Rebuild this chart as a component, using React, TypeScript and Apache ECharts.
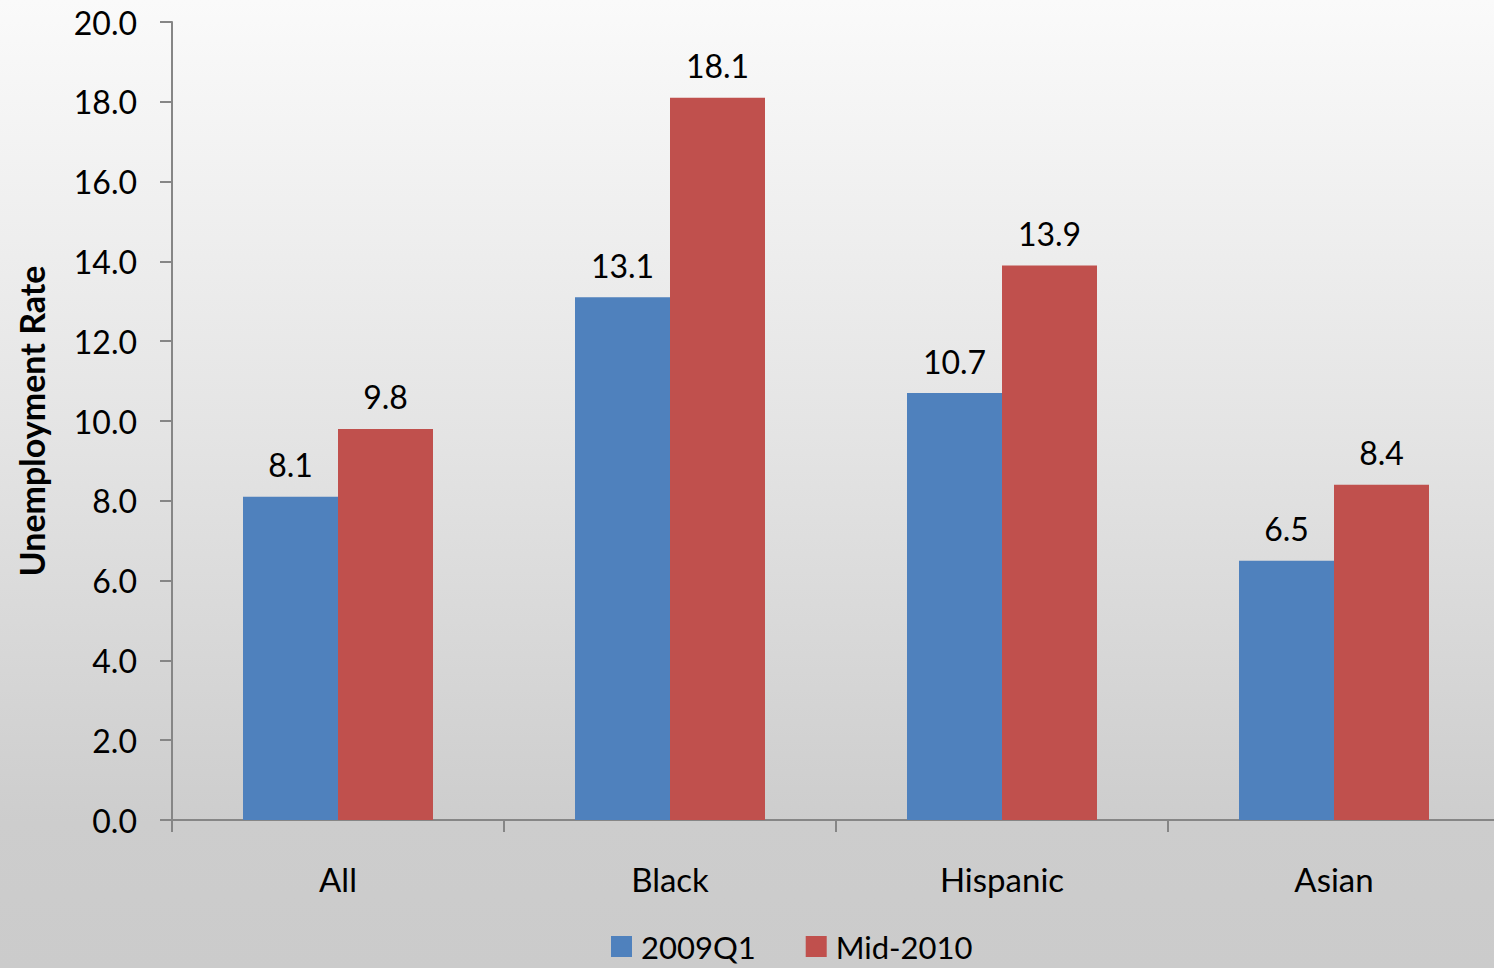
import React, { useEffect, useRef } from "react";
import * as echarts from "echarts";

const categories = ["All", "Black", "Hispanic", "Asian"];
const series2009Q1 = [8.1, 13.1, 10.7, 6.5];
const seriesMid2010 = [9.8, 18.1, 13.9, 8.4];
const seriesNames = ["2009Q1", "Mid-2010"];
const yTicks = { min: 0, max: 20, interval: 2 };

const FONT = "Lato, 'Open Sans', sans-serif";

export default function App() {
  const ref = useRef<HTMLDivElement>(null);
  useEffect(() => {
    document.body.style.margin = "0";
    const chart = echarts.init(ref.current!, null, { renderer: "svg" });
    const labelStyle = {
      show: true,
      position: "top" as const,
      distance: 16,
      fontSize: 32,
      color: "#000",
      fontFamily: FONT,
      formatter: (p: any) => Number(p.value).toFixed(1),
    };
    chart.setOption({
      animation: false,
      backgroundColor: "transparent",
      textStyle: { fontFamily: FONT },
      grid: { left: 172, right: 0, top: 22, bottom: 148, containLabel: false, outerBoundsMode: "none" },
      legend: {
        top: 926,
        left: 606,
        itemWidth: 21,
        itemHeight: 21,
        itemGap: 50,
        icon: "rect",
        textStyle: { fontSize: 31, color: "#000", fontFamily: FONT, padding: [0, 0, 0, 4] },
        data: seriesNames,
      },
      xAxis: {
        type: "category",
        data: categories,
        axisLine: { lineStyle: { color: "#868686", width: 2 } },
        axisTick: { show: true, length: 12, lineStyle: { color: "#868686", width: 2 } },
        axisLabel: { fontSize: 33, color: "#000", margin: 42, fontFamily: FONT },
      },
      yAxis: {
        type: "value",
        min: yTicks.min,
        max: yTicks.max,
        interval: yTicks.interval,
        name: "Unemployment Rate",
        nameLocation: "middle",
        nameRotate: 90,
        nameGap: 124,
        nameTextStyle: { fontSize: 34, fontWeight: "bold", color: "#000", fontFamily: FONT },
        axisLine: { show: true, lineStyle: { color: "#868686", width: 2 } },
        axisTick: { show: true, length: 12, lineStyle: { color: "#868686", width: 2 } },
        splitLine: { show: false },
        axisLabel: {
          fontSize: 32,
          color: "#000",
          margin: 35,
          fontFamily: FONT,
          formatter: (v: number) => v.toFixed(1),
        },
      },
      series: [
        {
          name: seriesNames[0],
          type: "bar",
          data: series2009Q1,
          barWidth: 95,
          barGap: "0%",
          itemStyle: { color: "#4F81BD" },
          label: labelStyle,
        },
        {
          name: seriesNames[1],
          type: "bar",
          data: seriesMid2010,
          barWidth: 95,
          barGap: "0%",
          itemStyle: { color: "#C0504D" },
          label: labelStyle,
        },
      ],
    });
    return () => chart.dispose();
  }, []);
  return (
    <div
      style={{
        position: "absolute",
        left: 0,
        top: 0,
        width: 1494,
        height: 968,
        overflow: "hidden",
        background: "linear-gradient(to bottom, #fafafa 0%, #e4e4e4 45%, #cdcdcd 85%, #cbcbcb 100%)",
      }}
    >
      <div ref={ref} style={{ width: 1500, height: 968 }} />
    </div>
  );
}
